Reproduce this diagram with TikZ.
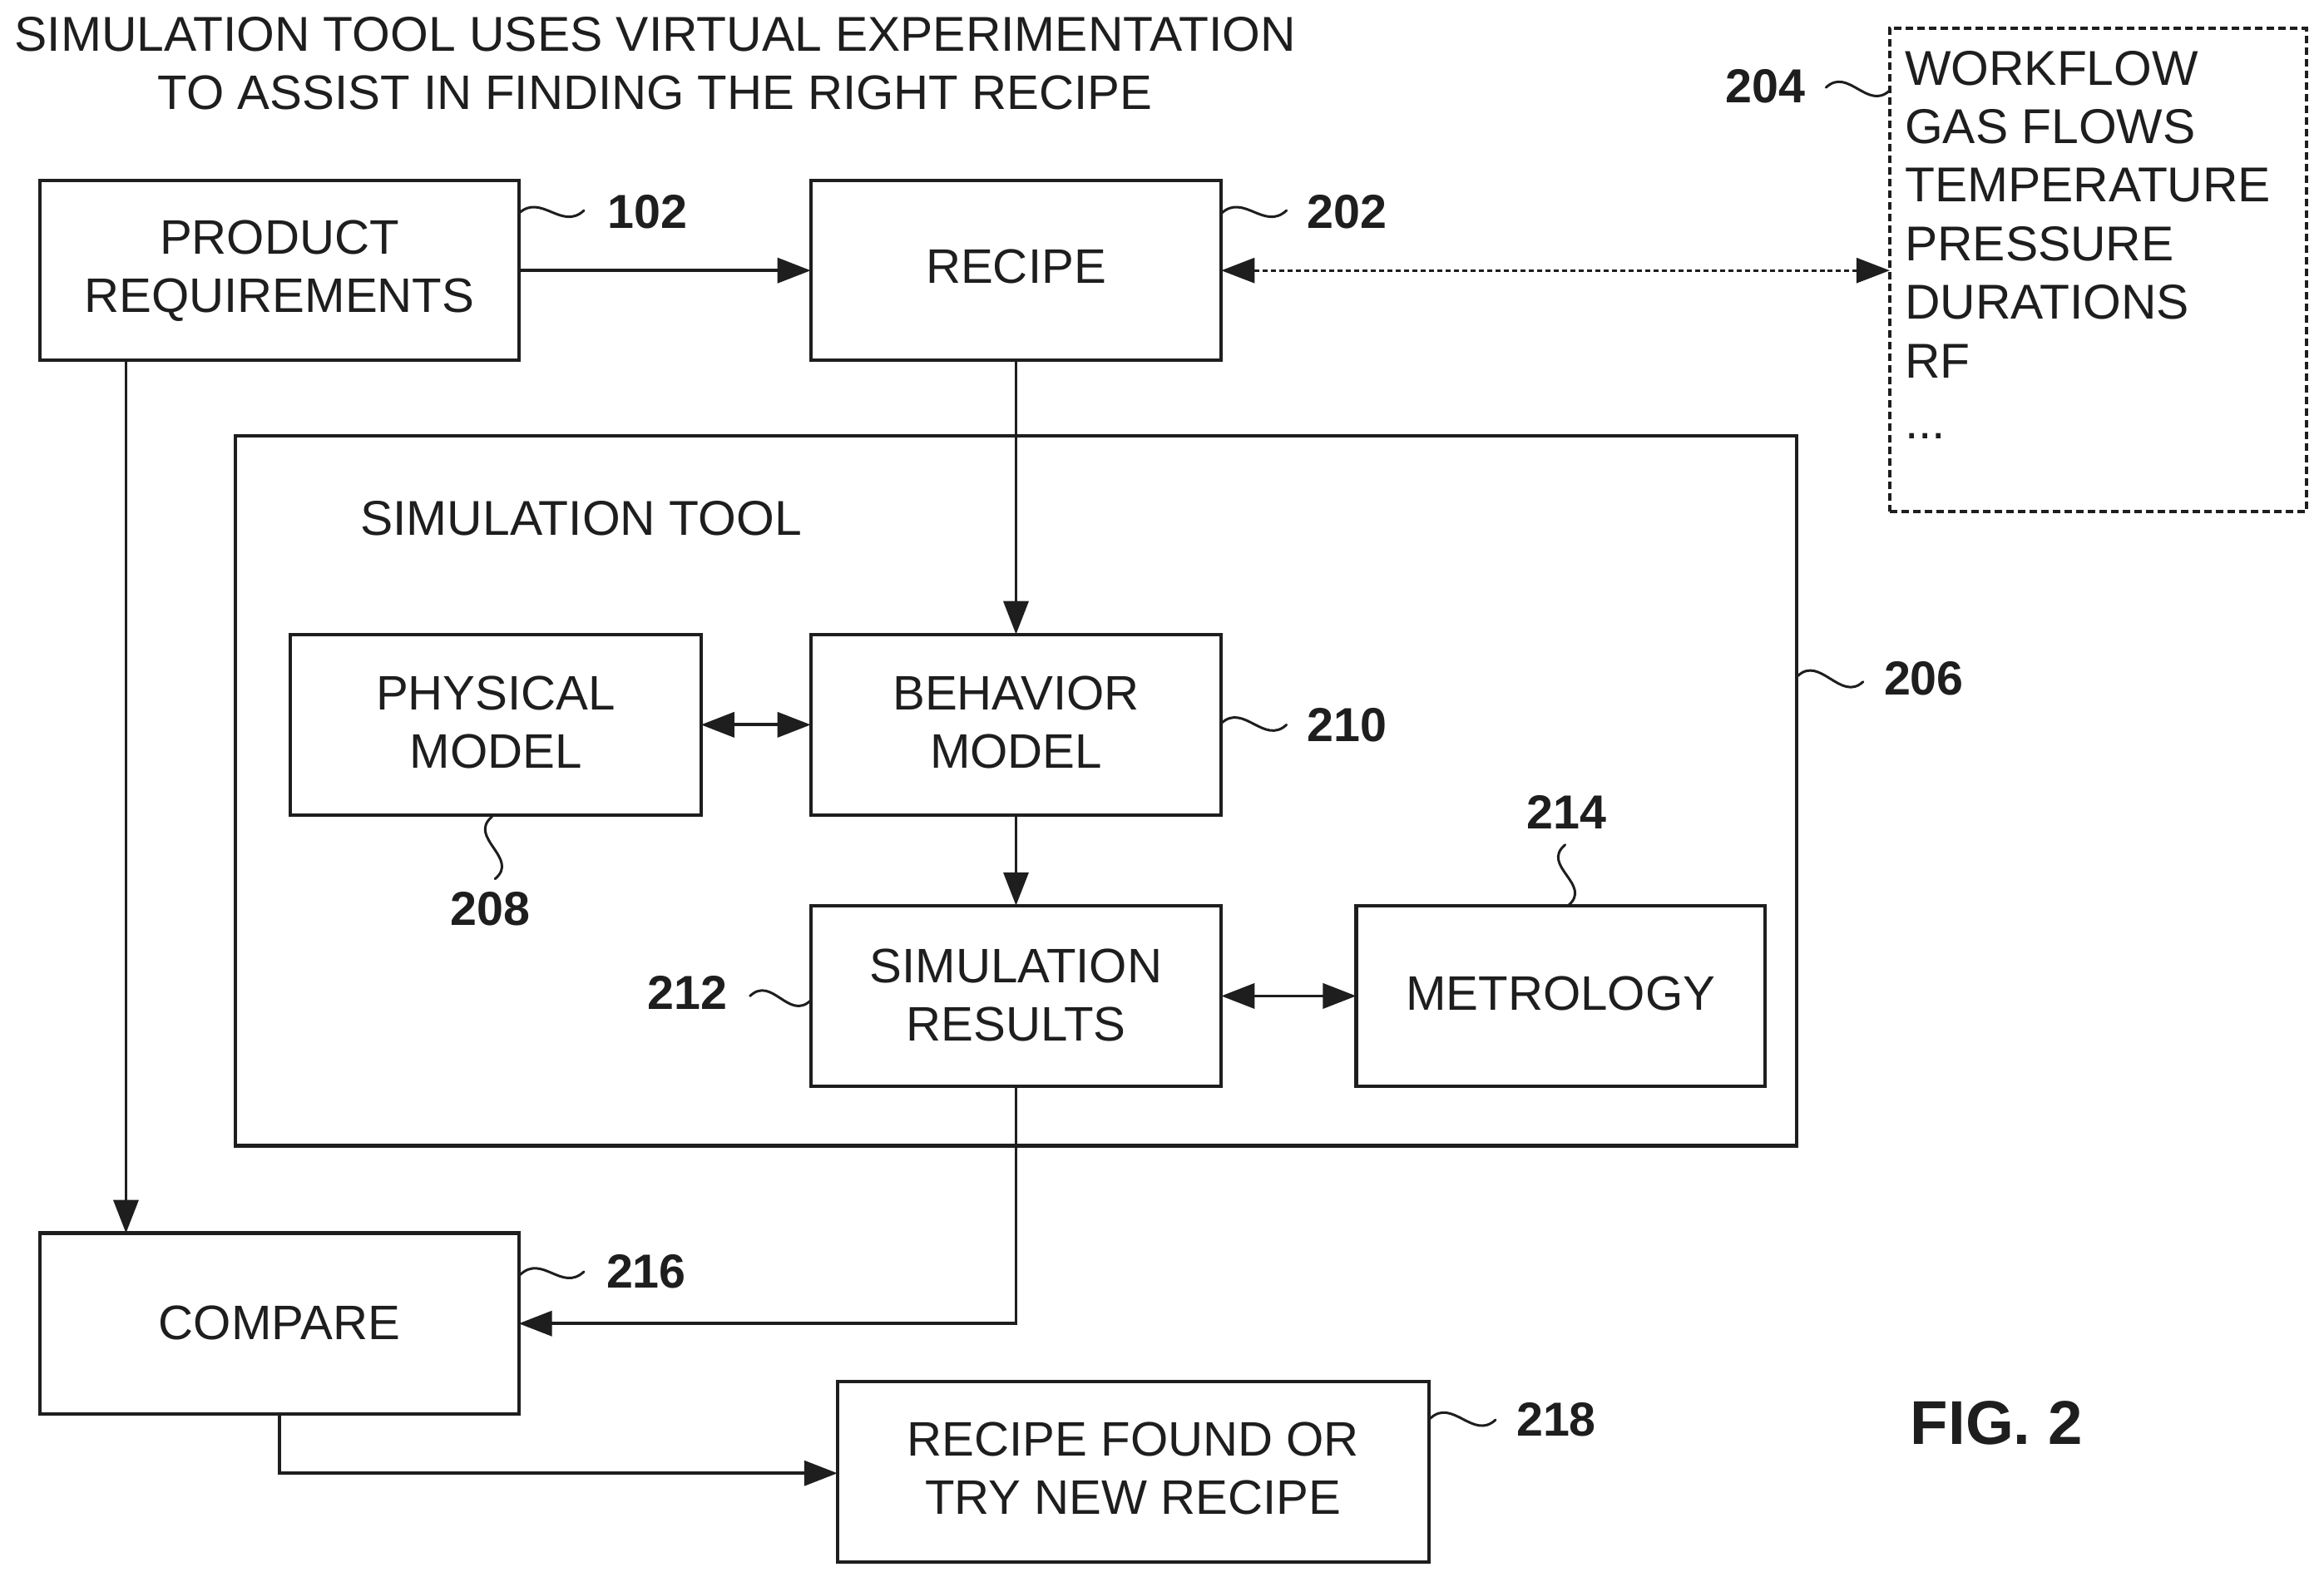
\documentclass[tikz,border=0pt]{standalone}
\usepackage{fontspec}
\setmainfont{Liberation Sans}
\usetikzlibrary{arrows.meta,calc}
\definecolor{ink}{HTML}{1E1E1E}
\tikzset{
  boxshape/.style={draw=ink,line width=2.1pt,inner sep=0pt,outer sep=0pt,align=center,text=ink,font=\fontsize{29.1}{35}\selectfont},
  dotbox/.style={boxshape,line width=2pt,dash pattern=on 4.5pt off 2.5pt},
  plain/.style={inner sep=0pt,text=ink,font=\fontsize{29.4}{35}\selectfont},
  listtext/.style={plain,font=\fontsize{29.4}{35.2}\selectfont},
  tag/.style={inner sep=0pt,text=ink,font=\fontsize{28.7}{34}\selectfont\bfseries},
  arrow/.style={draw=ink,line width=1.9pt,-{Triangle[length=20pt,width=15pt]}},
  twoway/.style={draw=ink,line width=1.9pt,{Triangle[length=20pt,width=15pt]}-{Triangle[length=20pt,width=15pt]}},
  dotway/.style={twoway,line width=1.5pt,dash pattern=on 3pt off 2pt},
  lead/.style={draw=ink,line width=1.5pt}
}
\newcommand\rectnode[7][boxshape]{%
  \pgfmathsetmacro\cxx{(#3+#5)/2}\pgfmathsetmacro\cyy{(#4+#6)/2}%
  \node[#1,minimum width={(#5-#3)*0.891pt},minimum height={(#6-#4)*0.891pt}] (#2) at (\cxx,\cyy) {#7};}
\newcommand\hsquig[3]{\coordinate (#1a) at (#2); \coordinate (#1b) at (#3);
  \draw[lead,line cap=round] (#1a) .. controls +(15,-14) and +(-15,14) .. (#1b);}
\newcommand\vsquig[3]{\coordinate (#1a) at (#2); \coordinate (#1b) at (#3);
  \draw[lead,line cap=round] (#1a) .. controls +(-17,14) and +(17,-14) .. (#1b);}
\begin{document}
\begin{tikzpicture}[x=0.891pt,y=-0.891pt]
\useasboundingbox (0,0) rectangle (1568,1067.4);
\rectnode{req}{27}{122}{350}{243}{PRODUCT\\REQUIREMENTS\\[-30.3pt]}
\rectnode{rec}{547}{122}{824}{243}{RECIPE\\[-30.2pt]}
\rectnode[dotbox]{lst}{1275}{19}{1556}{345}{}
\rectnode{sim}{159}{294}{1212}{773}{}
\rectnode{phy}{196}{428}{473}{550}{PHYSICAL\\MODEL\\[-32pt]}
\rectnode{beh}{547}{428}{824}{550}{BEHAVIOR\\MODEL\\[-32pt]}
\rectnode{res}{547}{611}{824}{733}{SIMULATION\\RESULTS\\[-33.8pt]}
\rectnode{met}{915}{611}{1191}{733}{METROLOGY\\[-32pt]}
\rectnode{cmp}{27}{832}{350}{954}{COMPARE\\[-33.8pt]}
\rectnode{fnd}{565}{932}{964}{1054}{RECIPE FOUND OR\\TRY NEW RECIPE\\[-31.2pt]}

\node[plain,align=center] (title) at (442,43) {SIMULATION TOOL USES VIRTUAL EXPERIMENTATION\\\fontsize{29.1}{35}\selectfont TO ASSIST IN FINDING THE RIGHT RECIPE};
\node[plain,anchor=west] (simt) at (243,350) {SIMULATION TOOL};
\node[listtext,align=left,anchor=north west] (lsttxt) at (1285,34) {WORKFLOW\\GAS FLOWS\\TEMPERATURE\\PRESSURE\\DURATIONS\\RF\\[1.4pt]...};

\node[tag] (t102) at (437,143) {102};
\node[tag] (t202) at (909,143) {202};
\node[tag] (t204) at (1191,58) {204};
\node[tag] (t206) at (1298,458) {206};
\node[tag] (t210) at (909,489) {210};
\node[tag] (t208) at (331,613) {208};
\node[tag] (t212) at (464,670) {212};
\node[tag] (t214) at (1057,548) {214};
\node[tag] (t216) at (436,858) {216};
\node[tag] (t218) at (1050,958) {218};
\node[inner sep=0pt,text=ink,font=\fontsize{37.2}{40}\selectfont\bfseries] (fig) at (1347,960) {FIG. 2};

\hsquig{s102}{350,144}{394,142}
\hsquig{s202}{824,144}{868,142}
\hsquig{s204}{1232,59}{1275,61}
\hsquig{s206}{1213,456}{1257,460}
\hsquig{s210}{824,488}{868,489}
\hsquig{s212}{506,672}{547,675}
\hsquig{s216}{351,860}{394,858}
\hsquig{s218}{965,957}{1009,958}
\vsquig{s208}{332,551}{334,593}
\vsquig{s214}{1056,570}{1058,611}

\draw[arrow] (req.east) -- (rec.west);
\draw[dotway] (rec.east) -- (rec.east -| lst.west);
\draw[arrow] (rec.south) -- (beh.north);
\draw[twoway] (phy.east) -- (beh.west);
\draw[arrow] (beh.south) -- (res.north);
\draw[twoway] (res.east) -- (met.west);
\coordinate (reqdrop) at (85,243);
\draw[arrow] (reqdrop) -- (reqdrop |- cmp.north);
\path (res.south) |- coordinate (resin) (0,893);
\draw[arrow] (res.south) -- (resin) -- (resin -| cmp.east);
\path (cmp.south) |- coordinate (cmpout) (0,994);
\draw[arrow] (cmp.south) -- (cmpout) -- (cmpout -| fnd.west);
\end{tikzpicture}
\end{document}
